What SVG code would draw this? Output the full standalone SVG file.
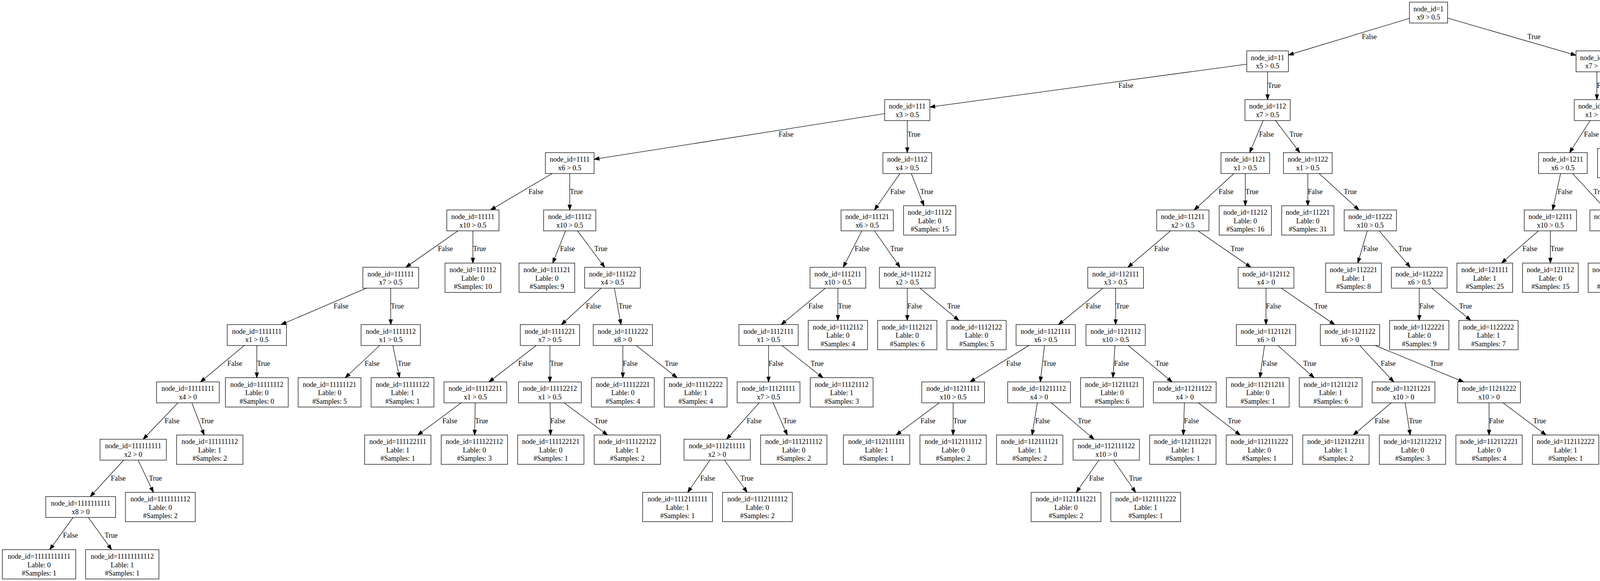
<svg xmlns="http://www.w3.org/2000/svg" width="5665" height="1488" viewBox="0 0 5665 1488">
<style>
text{font-family:"Liberation Serif","Times New Roman",serif;font-size:18.03px;text-anchor:middle;fill:#000}
.node rect{fill:#fff;stroke:#000;stroke-width:1.29}
#edges path{fill:none;stroke:#000;stroke-width:1.29;marker-end:url(#arr)}
</style>
<defs>
<marker id="arr" markerUnits="userSpaceOnUse" viewBox="-1 -6 15 12" markerWidth="15" markerHeight="12" refX="12.9" refY="0" orient="auto">
<path d="M0,-4.5 L12.9,0 L0,4.5 Z" fill="#000" stroke="#000" stroke-width="1.29"/>
</marker>
</defs>
<rect width="5665" height="1488" fill="#fff"/>
<g id="edges">
<path d="M3657,32.2 L3298.3,140.9"/><text x="3505.6" y="100.1">False</text>
<path d="M3657,32.2 L4034.7,141.6"/><text x="3927" y="100.1">True</text>
<path d="M3245,157.1 L2380.4,274.2"/><text x="2882.2" y="225">False</text>
<path d="M3245,157.1 L3245,255.3"/><text x="3262" y="225">True</text>
<path d="M4088,157.1 L4088,255.3"/><text x="4107.1" y="225">False</text>
<path d="M4088,157.1 L4295.5,255.3"/><text x="4259.9" y="225">True</text>
<path d="M2322.6,282 L1520.9,407.9"/><text x="2012.3" y="349.9">False</text>
<path d="M2322.6,282 L2322.6,391"/><text x="2339.6" y="349.9">True</text>
<path d="M3245,282 L3199.2,391"/><text x="3242.3" y="349.9">False</text>
<path d="M3245,282 L3327.7,391"/><text x="3317.6" y="349.9">True</text>
<path d="M4088,282 L4018.1,391"/><text x="4073.9" y="349.9">False</text>
<path d="M4088,282 L4134.3,380.2"/><text x="4139.6" y="349.9">True</text>
<path d="M4352,282 L4352,380.2"/><text x="4371.1" y="349.9">False</text>
<path d="M4352,282 L4519.8,391"/><text x="4481.9" y="349.9">True</text>
<path d="M1458.5,417.7 L1255.8,537.8"/><text x="1371.9" y="496.5">False</text>
<path d="M1458.5,417.7 L1458.5,537.8"/><text x="1475.5" y="496.5">True</text>
<path d="M2322.6,417.7 L2238.7,537.8"/><text x="2297.9" y="496.5">False</text>
<path d="M2322.6,417.7 L2365.3,527"/><text x="2372.5" y="496.5">True</text>
<path d="M3188,417.7 L3057.2,537.8"/><text x="3138.8" y="496.5">False</text>
<path d="M3188,417.7 L3188,527"/><text x="3205" y="496.5">True</text>
<path d="M3348,417.7 L3348,527"/><text x="3367.1" y="496.5">False</text>
<path d="M3348,417.7 L3478.9,537.8"/><text x="3456.8" y="496.5">True</text>
<path d="M4001,417.7 L3974.8,537.8"/><text x="4006.4" y="496.5">False</text>
<path d="M4001,417.7 L4112.2,537.8"/><text x="4096" y="496.5">True</text>
<path d="M4561,417.7 L4561,537.8"/><text x="4580.1" y="496.5">False</text>
<path d="M4561,417.7 L5054.6,547"/><text x="4899.5" y="496.5">True</text>
<path d="M1210.6,564.5 L1038.8,684.6"/><text x="1140.1" y="643.3">False</text>
<path d="M1210.6,564.5 L1210.6,673.8"/><text x="1227.6" y="643.3">True</text>
<path d="M1458.5,564.5 L1415,673.8"/><text x="1452.7" y="643.3">False</text>
<path d="M1458.5,564.5 L1548.1,684.6"/><text x="1538.3" y="643.3">True</text>
<path d="M2220,564.5 L2158.7,684.6"/><text x="2207.1" y="643.3">False</text>
<path d="M2220,564.5 L2303.9,684.6"/><text x="2295.9" y="643.3">True</text>
<path d="M3028,564.5 L2887.3,684.6"/><text x="2973.8" y="643.3">False</text>
<path d="M3028,564.5 L3202.2,684.6"/><text x="3167.2" y="643.3">True</text>
<path d="M3508,564.5 L3476,673.8"/><text x="3508.8" y="643.3">False</text>
<path d="M3508,564.5 L3610.2,684.6"/><text x="3596.7" y="643.3">True</text>
<path d="M3969,564.5 L3844,673.8"/><text x="3916.5" y="643.3">False</text>
<path d="M3969,564.5 L3969,673.8"/><text x="3986" y="643.3">True</text>
<path d="M4137,564.5 L4137,673.8"/><text x="4156.1" y="643.3">False</text>
<path d="M4137,564.5 L4262,673.8"/><text x="4250.4" y="643.3">True</text>
<path d="M4561,564.5 L4489,684.6"/><text x="4542.6" y="643.3">False</text>
<path d="M4561,564.5 L4629.7,684.6"/><text x="4626.2" y="643.3">True</text>
<path d="M5121.3,564.5 L5121.3,684.6"/><text x="5140.4" y="643.3">False</text>
<path d="M5121.3,564.5 L5353.3,684.6"/><text x="5301" y="643.3">True</text>
<path d="M1000.3,711.3 L719.6,831.4"/><text x="873.1" y="790.1">False</text>
<path d="M1000.3,711.3 L1000.3,831.4"/><text x="1017.3" y="790.1">True</text>
<path d="M1568,711.3 L1437.2,831.4"/><text x="1518.9" y="790.1">False</text>
<path d="M1568,711.3 L1589.7,831.4"/><text x="1600.2" y="790.1">True</text>
<path d="M2145,711.3 L1999.8,831.4"/><text x="2088.4" y="790.1">False</text>
<path d="M2145,711.3 L2145,820.6"/><text x="2162" y="790.1">True</text>
<path d="M2322.6,711.3 L2322.6,820.6"/><text x="2341.7" y="790.1">False</text>
<path d="M2322.6,711.3 L2454.6,820.6"/><text x="2441.4" y="790.1">True</text>
<path d="M2856,711.3 L2709.6,831.4"/><text x="2798.8" y="790.1">False</text>
<path d="M2856,711.3 L2856,831.4"/><text x="2873" y="790.1">True</text>
<path d="M3241,711.3 L3241,831.4"/><text x="3260.1" y="790.1">False</text>
<path d="M3241,711.3 L3416.8,831.4"/><text x="3381.3" y="790.1">True</text>
<path d="M3633.3,711.3 L3633.3,820.6"/><text x="3652.4" y="790.1">False</text>
<path d="M3633.3,711.3 L3765.2,820.6"/><text x="3751.9" y="790.1">True</text>
<path d="M4473,711.3 L4299.6,820.6"/><text x="4392.7" y="790.1">False</text>
<path d="M4473,711.3 L4427.2,831.4"/><text x="4466.1" y="790.1">True</text>
<path d="M4645,711.3 L4645,831.4"/><text x="4664.1" y="790.1">False</text>
<path d="M4645,711.3 L4831.5,831.4"/><text x="4792.8" y="790.1">True</text>
<path d="M5121.3,711.3 L5068.6,820.6"/><text x="5110.2" y="790.1">False</text>
<path d="M5121.3,711.3 L5200.5,820.6"/><text x="5199.3" y="790.1">True</text>
<path d="M5405,711.3 L5405,820.6"/><text x="5424.1" y="790.1">False</text>
<path d="M5405,711.3 L5536.7,820.6"/><text x="5523.5" y="790.1">True</text>
<path d="M657.5,858.1 L513.1,978.2"/><text x="601.1" y="936.9">False</text>
<path d="M657.5,858.1 L657.5,967.4"/><text x="674.5" y="936.9">True</text>
<path d="M1000.3,858.1 L883.8,967.4"/><text x="952.6" y="936.9">False</text>
<path d="M1000.3,858.1 L1022.8,967.4"/><text x="1034.6" y="936.9">True</text>
<path d="M1407.8,858.1 L1251.8,978.2"/><text x="1345.7" y="936.9">False</text>
<path d="M1407.8,858.1 L1407.8,978.2"/><text x="1424.8" y="936.9">True</text>
<path d="M1594.5,858.1 L1594.5,967.4"/><text x="1613.6" y="936.9">False</text>
<path d="M1594.5,858.1 L1733.3,967.4"/><text x="1718.5" y="936.9">True</text>
<path d="M1967.5,858.1 L1967.5,978.2"/><text x="1986.6" y="936.9">False</text>
<path d="M1967.5,858.1 L2106.8,967.4"/><text x="2091.9" y="936.9">True</text>
<path d="M2677,858.1 L2483.2,978.2"/><text x="2595" y="936.9">False</text>
<path d="M2677,858.1 L2663.1,978.2"/><text x="2686.8" y="936.9">True</text>
<path d="M2856,858.1 L2849.1,967.4"/><text x="2871.1" y="936.9">False</text>
<path d="M2856,858.1 L3000.8,978.2"/><text x="2974.5" y="936.9">True</text>
<path d="M3241,858.1 L3225.4,967.4"/><text x="3251.1" y="936.9">False</text>
<path d="M3241,858.1 L3364.2,967.4"/><text x="3353" y="936.9">True</text>
<path d="M3456,858.1 L3568,978.2"/><text x="3553.7" y="936.9">False</text>
<path d="M3456,858.1 L3747.1,978.2"/><text x="3677.2" y="936.9">True</text>
<path d="M4417,858.1 L4239.7,967.4"/><text x="4334.5" y="936.9">False</text>
<path d="M4417,858.1 L4378.3,967.4"/><text x="4411.8" y="936.9">True</text>
<path d="M4645,858.1 L4575.8,967.4"/><text x="4624.4" y="936.9">False</text>
<path d="M4645,858.1 L4714.7,967.4"/><text x="4715.7" y="936.9">True</text>
<path d="M4873,858.1 L4911.7,967.4"/><text x="4921.9" y="936.9">False</text>
<path d="M4873,858.1 L5050.6,967.4"/><text x="5026.9" y="936.9">True</text>
<path d="M481,1004.9 L366.5,1125"/><text x="440.4" y="1083.7">False</text>
<path d="M481,1004.9 L522.7,1114.2"/><text x="530.1" y="1083.7">True</text>
<path d="M1217,1004.9 L1069.2,1114.2"/><text x="1151.4" y="1083.7">False</text>
<path d="M1217,1004.9 L1215.1,1114.2"/><text x="1232.9" y="1083.7">True</text>
<path d="M1407.8,1004.9 L1409.4,1114.2"/><text x="1428.1" y="1083.7">False</text>
<path d="M1407.8,1004.9 L1555.3,1114.2"/><text x="1538.4" y="1083.7">True</text>
<path d="M1967.5,1004.9 L1860,1125"/><text x="1930.5" y="1083.7">False</text>
<path d="M1967.5,1004.9 L2015.5,1114.2"/><text x="2021.5" y="1083.7">True</text>
<path d="M2440,1004.9 L2294.1,1114.2"/><text x="2375.5" y="1083.7">False</text>
<path d="M2440,1004.9 L2440,1114.2"/><text x="2457" y="1083.7">True</text>
<path d="M2660,1004.9 L2642.1,1114.2"/><text x="2668.9" y="1083.7">False</text>
<path d="M2660,1004.9 L2800.7,1125"/><text x="2775.7" y="1083.7">True</text>
<path d="M3033,1004.9 L3029.3,1114.2"/><text x="3050" y="1083.7">False</text>
<path d="M3033,1004.9 L3175.1,1114.2"/><text x="3159.6" y="1083.7">True</text>
<path d="M3593,1004.9 L3464.3,1114.2"/><text x="3538.3" y="1083.7">False</text>
<path d="M3593,1004.9 L3610.1,1114.2"/><text x="3623.2" y="1083.7">True</text>
<path d="M3812,1004.9 L3812,1114.2"/><text x="3831.1" y="1083.7">False</text>
<path d="M3812,1004.9 L3957.9,1114.2"/><text x="3941.4" y="1083.7">True</text>
<path d="M341,1151.7 L231,1271.8"/><text x="302.7" y="1230.5">False</text>
<path d="M341,1151.7 L392.7,1261"/><text x="397.9" y="1230.5">True</text>
<path d="M1836,1151.7 L1760.5,1261"/><text x="1811.8" y="1230.5">False</text>
<path d="M1836,1151.7 L1912.7,1261"/><text x="1912.1" y="1230.5">True</text>
<path d="M2832,1151.7 L2755.4,1261"/><text x="2807.2" y="1230.5">False</text>
<path d="M2832,1151.7 L2907.2,1261"/><text x="2906.9" y="1230.5">True</text>
<path d="M206.5,1298.5 L127.2,1407.8"/><text x="180.2" y="1377.3">False</text>
<path d="M206.5,1298.5 L285.8,1407.8"/><text x="284.6" y="1377.3">True</text>
</g>
<g id="n1" class="node" transform="translate(3657,32.2)"><rect x="-48.84" y="-26.75" width="97.68" height="53.5"/><text y="-3.6">node_id=1</text><text y="18">x9 &gt; 0.5</text></g>
<g id="n11" class="node" transform="translate(3245,157.1)"><rect x="-53.34" y="-26.75" width="106.68" height="53.5"/><text y="-3.6">node_id=11</text><text y="18">x5 &gt; 0.5</text></g>
<g id="n12" class="node" transform="translate(4088,157.1)"><rect x="-53.34" y="-26.75" width="106.68" height="53.5"/><text y="-3.6">node_id=12</text><text y="18">x7 &gt; 0.5</text></g>
<g id="n111" class="node" transform="translate(2322.6,282)"><rect x="-57.85" y="-26.75" width="115.7" height="53.5"/><text y="-3.6">node_id=111</text><text y="18">x3 &gt; 0.5</text></g>
<g id="n112" class="node" transform="translate(3245,282)"><rect x="-57.85" y="-26.75" width="115.7" height="53.5"/><text y="-3.6">node_id=112</text><text y="18">x7 &gt; 0.5</text></g>
<g id="n121" class="node" transform="translate(4088,282)"><rect x="-57.85" y="-26.75" width="115.7" height="53.5"/><text y="-3.6">node_id=121</text><text y="18">x1 &gt; 0.5</text></g>
<g id="n122" class="node" transform="translate(4352,282)"><rect x="-57.85" y="-26.75" width="115.7" height="53.5"/><text y="-3.6">node_id=122</text><text y="18">x1 &gt; 0.5</text></g>
<g id="n1111" class="node" transform="translate(1458.5,417.7)"><rect x="-62.36" y="-26.75" width="124.72" height="53.5"/><text y="-3.6">node_id=1111</text><text y="18">x6 &gt; 0.5</text></g>
<g id="n1112" class="node" transform="translate(2322.6,417.7)"><rect x="-62.36" y="-26.75" width="124.72" height="53.5"/><text y="-3.6">node_id=1112</text><text y="18">x4 &gt; 0.5</text></g>
<g id="n1121" class="node" transform="translate(3188,417.7)"><rect x="-62.36" y="-26.75" width="124.72" height="53.5"/><text y="-3.6">node_id=1121</text><text y="18">x1 &gt; 0.5</text></g>
<g id="n1122" class="node" transform="translate(3348,417.7)"><rect x="-62.36" y="-26.75" width="124.72" height="53.5"/><text y="-3.6">node_id=1122</text><text y="18">x1 &gt; 0.5</text></g>
<g id="n1211" class="node" transform="translate(4001,417.7)"><rect x="-62.36" y="-26.75" width="124.72" height="53.5"/><text y="-3.6">node_id=1211</text><text y="18">x6 &gt; 0.5</text></g>
<g id="n1212" class="node" transform="translate(4152,417.7)"><rect x="-62.36" y="-37.55" width="124.72" height="75.1"/><text y="-14.4">node_id=1212</text><text y="7.2">Lable: 0</text><text y="28.8">#Samples: 28</text></g>
<g id="n1221" class="node" transform="translate(4352,417.7)"><rect x="-62.36" y="-37.55" width="124.72" height="75.1"/><text y="-14.4">node_id=1221</text><text y="7.2">Lable: 0</text><text y="28.8">#Samples: 70</text></g>
<g id="n1222" class="node" transform="translate(4561,417.7)"><rect x="-62.36" y="-26.75" width="124.72" height="53.5"/><text y="-3.6">node_id=1222</text><text y="18">x4 &gt; 0.5</text></g>
<g id="n11111" class="node" transform="translate(1210.6,564.5)"><rect x="-66.87" y="-26.75" width="133.74" height="53.5"/><text y="-3.6">node_id=11111</text><text y="18">x10 &gt; 0.5</text></g>
<g id="n11112" class="node" transform="translate(1458.5,564.5)"><rect x="-66.87" y="-26.75" width="133.74" height="53.5"/><text y="-3.6">node_id=11112</text><text y="18">x10 &gt; 0.5</text></g>
<g id="n11121" class="node" transform="translate(2220,564.5)"><rect x="-66.87" y="-26.75" width="133.74" height="53.5"/><text y="-3.6">node_id=11121</text><text y="18">x6 &gt; 0.5</text></g>
<g id="n11122" class="node" transform="translate(2380,564.5)"><rect x="-66.87" y="-37.55" width="133.74" height="75.1"/><text y="-14.4">node_id=11122</text><text y="7.2">Lable: 0</text><text y="28.8">#Samples: 15</text></g>
<g id="n11211" class="node" transform="translate(3028,564.5)"><rect x="-66.87" y="-26.75" width="133.74" height="53.5"/><text y="-3.6">node_id=11211</text><text y="18">x2 &gt; 0.5</text></g>
<g id="n11212" class="node" transform="translate(3188,564.5)"><rect x="-66.87" y="-37.55" width="133.74" height="75.1"/><text y="-14.4">node_id=11212</text><text y="7.2">Lable: 0</text><text y="28.8">#Samples: 16</text></g>
<g id="n11221" class="node" transform="translate(3348,564.5)"><rect x="-66.87" y="-37.55" width="133.74" height="75.1"/><text y="-14.4">node_id=11221</text><text y="7.2">Lable: 0</text><text y="28.8">#Samples: 31</text></g>
<g id="n11222" class="node" transform="translate(3508,564.5)"><rect x="-66.87" y="-26.75" width="133.74" height="53.5"/><text y="-3.6">node_id=11222</text><text y="18">x10 &gt; 0.5</text></g>
<g id="n12111" class="node" transform="translate(3969,564.5)"><rect x="-66.87" y="-26.75" width="133.74" height="53.5"/><text y="-3.6">node_id=12111</text><text y="18">x10 &gt; 0.5</text></g>
<g id="n12112" class="node" transform="translate(4137,564.5)"><rect x="-66.87" y="-26.75" width="133.74" height="53.5"/><text y="-3.6">node_id=12112</text><text y="18">x10 &gt; 0.5</text></g>
<g id="n12221" class="node" transform="translate(4561,564.5)"><rect x="-66.87" y="-26.75" width="133.74" height="53.5"/><text y="-3.6">node_id=12221</text><text y="18">x5 &gt; 0.5</text></g>
<g id="n12222" class="node" transform="translate(5121.3,564.5)"><rect x="-66.87" y="-26.75" width="133.74" height="53.5"/><text y="-3.6">node_id=12222</text><text y="18">x10 &gt; 0.5</text></g>
<g id="n111111" class="node" transform="translate(1000.3,711.3)"><rect x="-71.37" y="-26.75" width="142.74" height="53.5"/><text y="-3.6">node_id=111111</text><text y="18">x7 &gt; 0.5</text></g>
<g id="n111112" class="node" transform="translate(1210.6,711.3)"><rect x="-71.37" y="-37.55" width="142.74" height="75.1"/><text y="-14.4">node_id=111112</text><text y="7.2">Lable: 0</text><text y="28.8">#Samples: 10</text></g>
<g id="n111121" class="node" transform="translate(1400,711.3)"><rect x="-71.37" y="-37.55" width="142.74" height="75.1"/><text y="-14.4">node_id=111121</text><text y="7.2">Lable: 0</text><text y="28.8">#Samples: 9</text></g>
<g id="n111122" class="node" transform="translate(1568,711.3)"><rect x="-71.37" y="-26.75" width="142.74" height="53.5"/><text y="-3.6">node_id=111122</text><text y="18">x4 &gt; 0.5</text></g>
<g id="n111211" class="node" transform="translate(2145,711.3)"><rect x="-71.37" y="-26.75" width="142.74" height="53.5"/><text y="-3.6">node_id=111211</text><text y="18">x10 &gt; 0.5</text></g>
<g id="n111212" class="node" transform="translate(2322.6,711.3)"><rect x="-71.37" y="-26.75" width="142.74" height="53.5"/><text y="-3.6">node_id=111212</text><text y="18">x2 &gt; 0.5</text></g>
<g id="n112111" class="node" transform="translate(2856,711.3)"><rect x="-71.37" y="-26.75" width="142.74" height="53.5"/><text y="-3.6">node_id=112111</text><text y="18">x3 &gt; 0.5</text></g>
<g id="n112112" class="node" transform="translate(3241,711.3)"><rect x="-71.37" y="-26.75" width="142.74" height="53.5"/><text y="-3.6">node_id=112112</text><text y="18">x4 &gt; 0</text></g>
<g id="n112221" class="node" transform="translate(3465,711.3)"><rect x="-71.37" y="-37.55" width="142.74" height="75.1"/><text y="-14.4">node_id=112221</text><text y="7.2">Lable: 1</text><text y="28.8">#Samples: 8</text></g>
<g id="n112222" class="node" transform="translate(3633.3,711.3)"><rect x="-71.37" y="-26.75" width="142.74" height="53.5"/><text y="-3.6">node_id=112222</text><text y="18">x6 &gt; 0.5</text></g>
<g id="n121111" class="node" transform="translate(3801,711.3)"><rect x="-71.37" y="-37.55" width="142.74" height="75.1"/><text y="-14.4">node_id=121111</text><text y="7.2">Lable: 1</text><text y="28.8">#Samples: 25</text></g>
<g id="n121112" class="node" transform="translate(3969,711.3)"><rect x="-71.37" y="-37.55" width="142.74" height="75.1"/><text y="-14.4">node_id=121112</text><text y="7.2">Lable: 0</text><text y="28.8">#Samples: 15</text></g>
<g id="n121121" class="node" transform="translate(4137,711.3)"><rect x="-71.37" y="-37.55" width="142.74" height="75.1"/><text y="-14.4">node_id=121121</text><text y="7.2">Lable: 0</text><text y="28.8">#Samples: 19</text></g>
<g id="n121122" class="node" transform="translate(4305,711.3)"><rect x="-71.37" y="-37.55" width="142.74" height="75.1"/><text y="-14.4">node_id=121122</text><text y="7.2">Lable: 1</text><text y="28.8">#Samples: 16</text></g>
<g id="n122211" class="node" transform="translate(4473,711.3)"><rect x="-71.37" y="-26.75" width="142.74" height="53.5"/><text y="-3.6">node_id=122211</text><text y="18">x10 &gt; 0.5</text></g>
<g id="n122212" class="node" transform="translate(4645,711.3)"><rect x="-71.37" y="-26.75" width="142.74" height="53.5"/><text y="-3.6">node_id=122212</text><text y="18">x10 &gt; 0.5</text></g>
<g id="n122221" class="node" transform="translate(5121.3,711.3)"><rect x="-71.37" y="-26.75" width="142.74" height="53.5"/><text y="-3.6">node_id=122221</text><text y="18">x6 &gt; 0.5</text></g>
<g id="n122222" class="node" transform="translate(5405,711.3)"><rect x="-71.37" y="-26.75" width="142.74" height="53.5"/><text y="-3.6">node_id=122222</text><text y="18">x6 &gt; 0.5</text></g>
<g id="n1111111" class="node" transform="translate(657.5,858.1)"><rect x="-75.88" y="-26.75" width="151.76" height="53.5"/><text y="-3.6">node_id=1111111</text><text y="18">x1 &gt; 0.5</text></g>
<g id="n1111112" class="node" transform="translate(1000.3,858.1)"><rect x="-75.88" y="-26.75" width="151.76" height="53.5"/><text y="-3.6">node_id=1111112</text><text y="18">x1 &gt; 0.5</text></g>
<g id="n1111221" class="node" transform="translate(1407.8,858.1)"><rect x="-75.88" y="-26.75" width="151.76" height="53.5"/><text y="-3.6">node_id=1111221</text><text y="18">x7 &gt; 0.5</text></g>
<g id="n1111222" class="node" transform="translate(1594.5,858.1)"><rect x="-75.88" y="-26.75" width="151.76" height="53.5"/><text y="-3.6">node_id=1111222</text><text y="18">x8 &gt; 0</text></g>
<g id="n1112111" class="node" transform="translate(1967.5,858.1)"><rect x="-75.88" y="-26.75" width="151.76" height="53.5"/><text y="-3.6">node_id=1112111</text><text y="18">x1 &gt; 0.5</text></g>
<g id="n1112112" class="node" transform="translate(2145,858.1)"><rect x="-75.88" y="-37.55" width="151.76" height="75.1"/><text y="-14.4">node_id=1112112</text><text y="7.2">Lable: 0</text><text y="28.8">#Samples: 4</text></g>
<g id="n1112121" class="node" transform="translate(2322.6,858.1)"><rect x="-75.88" y="-37.55" width="151.76" height="75.1"/><text y="-14.4">node_id=1112121</text><text y="7.2">Lable: 0</text><text y="28.8">#Samples: 6</text></g>
<g id="n1112122" class="node" transform="translate(2500,858.1)"><rect x="-75.88" y="-37.55" width="151.76" height="75.1"/><text y="-14.4">node_id=1112122</text><text y="7.2">Lable: 0</text><text y="28.8">#Samples: 5</text></g>
<g id="n1121111" class="node" transform="translate(2677,858.1)"><rect x="-75.88" y="-26.75" width="151.76" height="53.5"/><text y="-3.6">node_id=1121111</text><text y="18">x6 &gt; 0.5</text></g>
<g id="n1121112" class="node" transform="translate(2856,858.1)"><rect x="-75.88" y="-26.75" width="151.76" height="53.5"/><text y="-3.6">node_id=1121112</text><text y="18">x10 &gt; 0.5</text></g>
<g id="n1121121" class="node" transform="translate(3241,858.1)"><rect x="-75.88" y="-26.75" width="151.76" height="53.5"/><text y="-3.6">node_id=1121121</text><text y="18">x6 &gt; 0</text></g>
<g id="n1121122" class="node" transform="translate(3456,858.1)"><rect x="-75.88" y="-26.75" width="151.76" height="53.5"/><text y="-3.6">node_id=1121122</text><text y="18">x6 &gt; 0</text></g>
<g id="n1122221" class="node" transform="translate(3633.3,858.1)"><rect x="-75.88" y="-37.55" width="151.76" height="75.1"/><text y="-14.4">node_id=1122221</text><text y="7.2">Lable: 0</text><text y="28.8">#Samples: 9</text></g>
<g id="n1122222" class="node" transform="translate(3810.5,858.1)"><rect x="-75.88" y="-37.55" width="151.76" height="75.1"/><text y="-14.4">node_id=1122222</text><text y="7.2">Lable: 1</text><text y="28.8">#Samples: 7</text></g>
<g id="n1222111" class="node" transform="translate(4240,858.1)"><rect x="-75.88" y="-37.55" width="151.76" height="75.1"/><text y="-14.4">node_id=1222111</text><text y="7.2">Lable: 0</text><text y="28.8">#Samples: 0</text></g>
<g id="n1222112" class="node" transform="translate(4417,858.1)"><rect x="-75.88" y="-26.75" width="151.76" height="53.5"/><text y="-3.6">node_id=1222112</text><text y="18">x6 &gt; 0.5</text></g>
<g id="n1222121" class="node" transform="translate(4645,858.1)"><rect x="-75.88" y="-26.75" width="151.76" height="53.5"/><text y="-3.6">node_id=1222121</text><text y="18">x6 &gt; 0.5</text></g>
<g id="n1222122" class="node" transform="translate(4873,858.1)"><rect x="-75.88" y="-26.75" width="151.76" height="53.5"/><text y="-3.6">node_id=1222122</text><text y="18">x6 &gt; 0.5</text></g>
<g id="n1222211" class="node" transform="translate(5050.5,858.1)"><rect x="-75.88" y="-37.55" width="151.76" height="75.1"/><text y="-14.4">node_id=1222211</text><text y="7.2">Lable: 1</text><text y="28.8">#Samples: 6</text></g>
<g id="n1222212" class="node" transform="translate(5227.7,858.1)"><rect x="-75.88" y="-37.55" width="151.76" height="75.1"/><text y="-14.4">node_id=1222212</text><text y="7.2">Lable: 0</text><text y="28.8">#Samples: 0</text></g>
<g id="n1222221" class="node" transform="translate(5405,858.1)"><rect x="-75.88" y="-37.55" width="151.76" height="75.1"/><text y="-14.4">node_id=1222221</text><text y="7.2">Lable: 0</text><text y="28.8">#Samples: 6</text></g>
<g id="n1222222" class="node" transform="translate(5582,858.1)"><rect x="-75.88" y="-37.55" width="151.76" height="75.1"/><text y="-14.4">node_id=1222222</text><text y="7.2">Lable: 1</text><text y="28.8">#Samples: 6</text></g>
<g id="n11111111" class="node" transform="translate(481,1004.9)"><rect x="-80.39" y="-26.75" width="160.78" height="53.5"/><text y="-3.6">node_id=11111111</text><text y="18">x4 &gt; 0</text></g>
<g id="n11111112" class="node" transform="translate(657.5,1004.9)"><rect x="-80.39" y="-37.55" width="160.78" height="75.1"/><text y="-14.4">node_id=11111112</text><text y="7.2">Lable: 0</text><text y="28.8">#Samples: 0</text></g>
<g id="n11111121" class="node" transform="translate(843.7,1004.9)"><rect x="-80.39" y="-37.55" width="160.78" height="75.1"/><text y="-14.4">node_id=11111121</text><text y="7.2">Lable: 0</text><text y="28.8">#Samples: 5</text></g>
<g id="n11111122" class="node" transform="translate(1030.5,1004.9)"><rect x="-80.39" y="-37.55" width="160.78" height="75.1"/><text y="-14.4">node_id=11111122</text><text y="7.2">Lable: 1</text><text y="28.8">#Samples: 1</text></g>
<g id="n11112211" class="node" transform="translate(1217,1004.9)"><rect x="-80.39" y="-26.75" width="160.78" height="53.5"/><text y="-3.6">node_id=11112211</text><text y="18">x1 &gt; 0.5</text></g>
<g id="n11112212" class="node" transform="translate(1407.8,1004.9)"><rect x="-80.39" y="-26.75" width="160.78" height="53.5"/><text y="-3.6">node_id=11112212</text><text y="18">x1 &gt; 0.5</text></g>
<g id="n11112221" class="node" transform="translate(1594.5,1004.9)"><rect x="-80.39" y="-37.55" width="160.78" height="75.1"/><text y="-14.4">node_id=11112221</text><text y="7.2">Lable: 0</text><text y="28.8">#Samples: 4</text></g>
<g id="n11112222" class="node" transform="translate(1781,1004.9)"><rect x="-80.39" y="-37.55" width="160.78" height="75.1"/><text y="-14.4">node_id=11112222</text><text y="7.2">Lable: 1</text><text y="28.8">#Samples: 4</text></g>
<g id="n11121111" class="node" transform="translate(1967.5,1004.9)"><rect x="-80.39" y="-26.75" width="160.78" height="53.5"/><text y="-3.6">node_id=11121111</text><text y="18">x7 &gt; 0.5</text></g>
<g id="n11121112" class="node" transform="translate(2154.7,1004.9)"><rect x="-80.39" y="-37.55" width="160.78" height="75.1"/><text y="-14.4">node_id=11121112</text><text y="7.2">Lable: 1</text><text y="28.8">#Samples: 3</text></g>
<g id="n11211111" class="node" transform="translate(2440,1004.9)"><rect x="-80.39" y="-26.75" width="160.78" height="53.5"/><text y="-3.6">node_id=11211111</text><text y="18">x10 &gt; 0.5</text></g>
<g id="n11211112" class="node" transform="translate(2660,1004.9)"><rect x="-80.39" y="-26.75" width="160.78" height="53.5"/><text y="-3.6">node_id=11211112</text><text y="18">x4 &gt; 0</text></g>
<g id="n11211121" class="node" transform="translate(2846.7,1004.9)"><rect x="-80.39" y="-37.55" width="160.78" height="75.1"/><text y="-14.4">node_id=11211121</text><text y="7.2">Lable: 0</text><text y="28.8">#Samples: 6</text></g>
<g id="n11211122" class="node" transform="translate(3033,1004.9)"><rect x="-80.39" y="-26.75" width="160.78" height="53.5"/><text y="-3.6">node_id=11211122</text><text y="18">x4 &gt; 0</text></g>
<g id="n11211211" class="node" transform="translate(3220,1004.9)"><rect x="-80.39" y="-37.55" width="160.78" height="75.1"/><text y="-14.4">node_id=11211211</text><text y="7.2">Lable: 0</text><text y="28.8">#Samples: 1</text></g>
<g id="n11211212" class="node" transform="translate(3406.6,1004.9)"><rect x="-80.39" y="-37.55" width="160.78" height="75.1"/><text y="-14.4">node_id=11211212</text><text y="7.2">Lable: 1</text><text y="28.8">#Samples: 6</text></g>
<g id="n11211221" class="node" transform="translate(3593,1004.9)"><rect x="-80.39" y="-26.75" width="160.78" height="53.5"/><text y="-3.6">node_id=11211221</text><text y="18">x10 &gt; 0</text></g>
<g id="n11211222" class="node" transform="translate(3812,1004.9)"><rect x="-80.39" y="-26.75" width="160.78" height="53.5"/><text y="-3.6">node_id=11211222</text><text y="18">x10 &gt; 0</text></g>
<g id="n12221121" class="node" transform="translate(4178.7,1004.9)"><rect x="-80.39" y="-37.55" width="160.78" height="75.1"/><text y="-14.4">node_id=12221121</text><text y="7.2">Lable: 0</text><text y="28.8">#Samples: 2</text></g>
<g id="n12221122" class="node" transform="translate(4365,1004.9)"><rect x="-80.39" y="-37.55" width="160.78" height="75.1"/><text y="-14.4">node_id=12221122</text><text y="7.2">Lable: 1</text><text y="28.8">#Samples: 2</text></g>
<g id="n12221211" class="node" transform="translate(4552,1004.9)"><rect x="-80.39" y="-37.55" width="160.78" height="75.1"/><text y="-14.4">node_id=12221211</text><text y="7.2">Lable: 1</text><text y="28.8">#Samples: 3</text></g>
<g id="n12221212" class="node" transform="translate(4738.6,1004.9)"><rect x="-80.39" y="-37.55" width="160.78" height="75.1"/><text y="-14.4">node_id=12221212</text><text y="7.2">Lable: 0</text><text y="28.8">#Samples: 0</text></g>
<g id="n12221221" class="node" transform="translate(4925,1004.9)"><rect x="-80.39" y="-37.55" width="160.78" height="75.1"/><text y="-14.4">node_id=12221221</text><text y="7.2">Lable: 0</text><text y="28.8">#Samples: 4</text></g>
<g id="n12221222" class="node" transform="translate(5111.7,1004.9)"><rect x="-80.39" y="-37.55" width="160.78" height="75.1"/><text y="-14.4">node_id=12221222</text><text y="7.2">Lable: 1</text><text y="28.8">#Samples: 2</text></g>
<g id="n111111111" class="node" transform="translate(341,1151.7)"><rect x="-84.89" y="-26.75" width="169.78" height="53.5"/><text y="-3.6">node_id=111111111</text><text y="18">x2 &gt; 0</text></g>
<g id="n111111112" class="node" transform="translate(537,1151.7)"><rect x="-84.89" y="-37.55" width="169.78" height="75.1"/><text y="-14.4">node_id=111111112</text><text y="7.2">Lable: 1</text><text y="28.8">#Samples: 2</text></g>
<g id="n111122111" class="node" transform="translate(1018.4,1151.7)"><rect x="-84.89" y="-37.55" width="169.78" height="75.1"/><text y="-14.4">node_id=111122111</text><text y="7.2">Lable: 1</text><text y="28.8">#Samples: 1</text></g>
<g id="n111122112" class="node" transform="translate(1214.4,1151.7)"><rect x="-84.89" y="-37.55" width="169.78" height="75.1"/><text y="-14.4">node_id=111122112</text><text y="7.2">Lable: 0</text><text y="28.8">#Samples: 3</text></g>
<g id="n111122121" class="node" transform="translate(1410,1151.7)"><rect x="-84.89" y="-37.55" width="169.78" height="75.1"/><text y="-14.4">node_id=111122121</text><text y="7.2">Lable: 0</text><text y="28.8">#Samples: 1</text></g>
<g id="n111122122" class="node" transform="translate(1606,1151.7)"><rect x="-84.89" y="-37.55" width="169.78" height="75.1"/><text y="-14.4">node_id=111122122</text><text y="7.2">Lable: 1</text><text y="28.8">#Samples: 2</text></g>
<g id="n111211111" class="node" transform="translate(1836,1151.7)"><rect x="-84.89" y="-26.75" width="169.78" height="53.5"/><text y="-3.6">node_id=111211111</text><text y="18">x2 &gt; 0</text></g>
<g id="n111211112" class="node" transform="translate(2032,1151.7)"><rect x="-84.89" y="-37.55" width="169.78" height="75.1"/><text y="-14.4">node_id=111211112</text><text y="7.2">Lable: 0</text><text y="28.8">#Samples: 2</text></g>
<g id="n112111111" class="node" transform="translate(2244,1151.7)"><rect x="-84.89" y="-37.55" width="169.78" height="75.1"/><text y="-14.4">node_id=112111111</text><text y="7.2">Lable: 1</text><text y="28.8">#Samples: 1</text></g>
<g id="n112111112" class="node" transform="translate(2440,1151.7)"><rect x="-84.89" y="-37.55" width="169.78" height="75.1"/><text y="-14.4">node_id=112111112</text><text y="7.2">Lable: 0</text><text y="28.8">#Samples: 2</text></g>
<g id="n112111121" class="node" transform="translate(2636,1151.7)"><rect x="-84.89" y="-37.55" width="169.78" height="75.1"/><text y="-14.4">node_id=112111121</text><text y="7.2">Lable: 1</text><text y="28.8">#Samples: 2</text></g>
<g id="n112111122" class="node" transform="translate(2832,1151.7)"><rect x="-84.89" y="-26.75" width="169.78" height="53.5"/><text y="-3.6">node_id=112111122</text><text y="18">x10 &gt; 0</text></g>
<g id="n112111221" class="node" transform="translate(3028,1151.7)"><rect x="-84.89" y="-37.55" width="169.78" height="75.1"/><text y="-14.4">node_id=112111221</text><text y="7.2">Lable: 1</text><text y="28.8">#Samples: 1</text></g>
<g id="n112111222" class="node" transform="translate(3224,1151.7)"><rect x="-84.89" y="-37.55" width="169.78" height="75.1"/><text y="-14.4">node_id=112111222</text><text y="7.2">Lable: 0</text><text y="28.8">#Samples: 1</text></g>
<g id="n112112211" class="node" transform="translate(3420,1151.7)"><rect x="-84.89" y="-37.55" width="169.78" height="75.1"/><text y="-14.4">node_id=112112211</text><text y="7.2">Lable: 1</text><text y="28.8">#Samples: 2</text></g>
<g id="n112112212" class="node" transform="translate(3616,1151.7)"><rect x="-84.89" y="-37.55" width="169.78" height="75.1"/><text y="-14.4">node_id=112112212</text><text y="7.2">Lable: 0</text><text y="28.8">#Samples: 3</text></g>
<g id="n112112221" class="node" transform="translate(3812,1151.7)"><rect x="-84.89" y="-37.55" width="169.78" height="75.1"/><text y="-14.4">node_id=112112221</text><text y="7.2">Lable: 0</text><text y="28.8">#Samples: 4</text></g>
<g id="n112112222" class="node" transform="translate(4008,1151.7)"><rect x="-84.89" y="-37.55" width="169.78" height="75.1"/><text y="-14.4">node_id=112112222</text><text y="7.2">Lable: 1</text><text y="28.8">#Samples: 1</text></g>
<g id="n1111111111" class="node" transform="translate(206.5,1298.5)"><rect x="-89.4" y="-26.75" width="178.8" height="53.5"/><text y="-3.6">node_id=1111111111</text><text y="18">x8 &gt; 0</text></g>
<g id="n1111111112" class="node" transform="translate(410.5,1298.5)"><rect x="-89.4" y="-37.55" width="178.8" height="75.1"/><text y="-14.4">node_id=1111111112</text><text y="7.2">Lable: 0</text><text y="28.8">#Samples: 2</text></g>
<g id="n1112111111" class="node" transform="translate(1734.5,1298.5)"><rect x="-89.4" y="-37.55" width="178.8" height="75.1"/><text y="-14.4">node_id=1112111111</text><text y="7.2">Lable: 1</text><text y="28.8">#Samples: 1</text></g>
<g id="n1112111112" class="node" transform="translate(1939,1298.5)"><rect x="-89.4" y="-37.55" width="178.8" height="75.1"/><text y="-14.4">node_id=1112111112</text><text y="7.2">Lable: 0</text><text y="28.8">#Samples: 2</text></g>
<g id="n1121111221" class="node" transform="translate(2729,1298.5)"><rect x="-89.4" y="-37.55" width="178.8" height="75.1"/><text y="-14.4">node_id=1121111221</text><text y="7.2">Lable: 0</text><text y="28.8">#Samples: 2</text></g>
<g id="n1121111222" class="node" transform="translate(2933,1298.5)"><rect x="-89.4" y="-37.55" width="178.8" height="75.1"/><text y="-14.4">node_id=1121111222</text><text y="7.2">Lable: 1</text><text y="28.8">#Samples: 1</text></g>
<g id="n11111111111" class="node" transform="translate(100,1445.3)"><rect x="-93.91" y="-37.55" width="187.82" height="75.1"/><text y="-14.4">node_id=11111111111</text><text y="7.2">Lable: 0</text><text y="28.8">#Samples: 1</text></g>
<g id="n11111111112" class="node" transform="translate(313,1445.3)"><rect x="-93.91" y="-37.55" width="187.82" height="75.1"/><text y="-14.4">node_id=11111111112</text><text y="7.2">Lable: 1</text><text y="28.8">#Samples: 1</text></g>
</svg>
